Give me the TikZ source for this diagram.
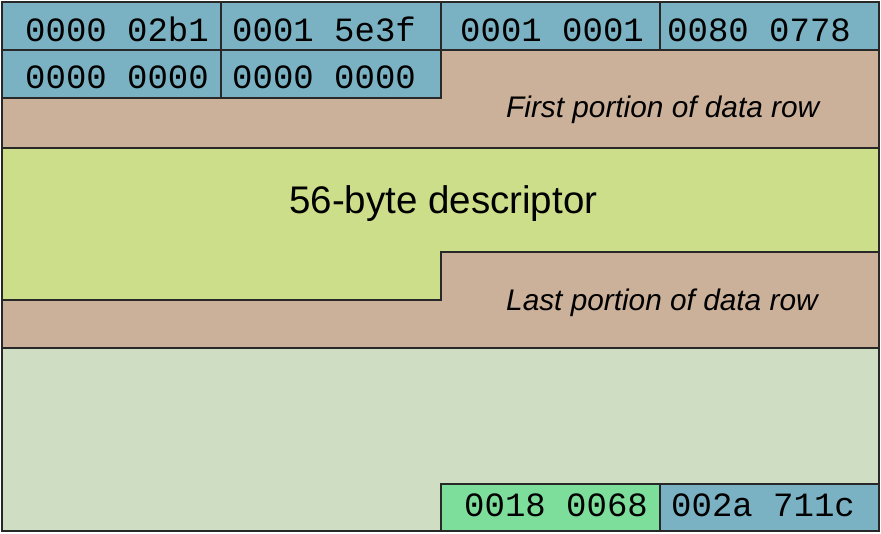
\documentclass[tikz,border=0pt]{standalone}
\usepackage{fontspec}
\setmainfont{Liberation Sans}
\newfontfamily\monof{Liberation Mono}
\definecolor{cblue}{RGB}{122,178,195}
\definecolor{ctan}{RGB}{203,176,154}
\definecolor{cyg}{RGB}{204,222,138}
\definecolor{clg}{RGB}{207,222,194}
\definecolor{cbg}{RGB}{124,222,154}
\definecolor{cline}{RGB}{40,40,40}
\tikzset{
  region/.style={draw=cline, line width=1.1pt},
  hexlbl/.style={anchor=base west, inner sep=0pt, font=\monof\fontsize{34}{36}\selectfont},
  seclbl/.style={anchor=base west, inner sep=0pt, font=\fontsize{29.8}{32}\selectfont\itshape},
  biglbl/.style={anchor=base west, inner sep=0pt, font=\fontsize{38.5}{40}\selectfont}
}
\begin{document}
\begin{tikzpicture}[x=1pt,y=-1pt]
\useasboundingbox (0,0) rectangle (881,533);
% light green bottom
\fill[clg] (2,348) rectangle (879,531);
\draw[region] (2,348) -- (2,531) -- (879,531) -- (879,348);
% tan region 1
\draw[region, fill=ctan] (2,98) -- (441,98) -- (441,50) -- (879,50) -- (879,148) -- (2,148) -- cycle;
% yellow-green descriptor
\draw[region, fill=cyg] (2,148) -- (879,148) -- (879,252) -- (441,252) -- (441,300) -- (2,300) -- cycle;
% tan region 2
\draw[region, fill=ctan] (2,300) -- (441,300) -- (441,252) -- (879,252) -- (879,348) -- (2,348) -- cycle;
% blue cells
\draw[region, fill=cblue] (2,2) rectangle (221,50);
\draw[region, fill=cblue] (221,2) rectangle (441,50);
\draw[region, fill=cblue] (441,2) rectangle (660,50);
\draw[region, fill=cblue] (660,2) rectangle (879,50);
\draw[region, fill=cblue] (2,50) rectangle (221,98);
\draw[region, fill=cblue] (221,50) rectangle (441,98);
% bottom cells
\draw[region, fill=cbg] (441,484) rectangle (660,531);
\draw[region, fill=cblue] (660,484) rectangle (879,531);
% texts
\node[hexlbl] (h1) at (25,41) {0000 02b1};
\node[hexlbl] (h2) at (232,41) {0001 5e3f};
\node[hexlbl] (h3) at (460,41) {0001 0001};
\node[hexlbl] (h4) at (667,41) {0080 0778};
\node[hexlbl] (h5) at (25,88) {0000 0000};
\node[hexlbl] (h6) at (232,88) {0000 0000};
\node[hexlbl] (h7) at (464,516) {0018 0068};
\node[hexlbl] (h8) at (671,516) {002a 711c};
\node[seclbl] (first) at (506,117) {First portion of data row};
\node[seclbl] (last) at (506,310) {Last portion of data row};
\node[biglbl] (desc) at (289,213) {56-byte descriptor};
\end{tikzpicture}
\end{document}
